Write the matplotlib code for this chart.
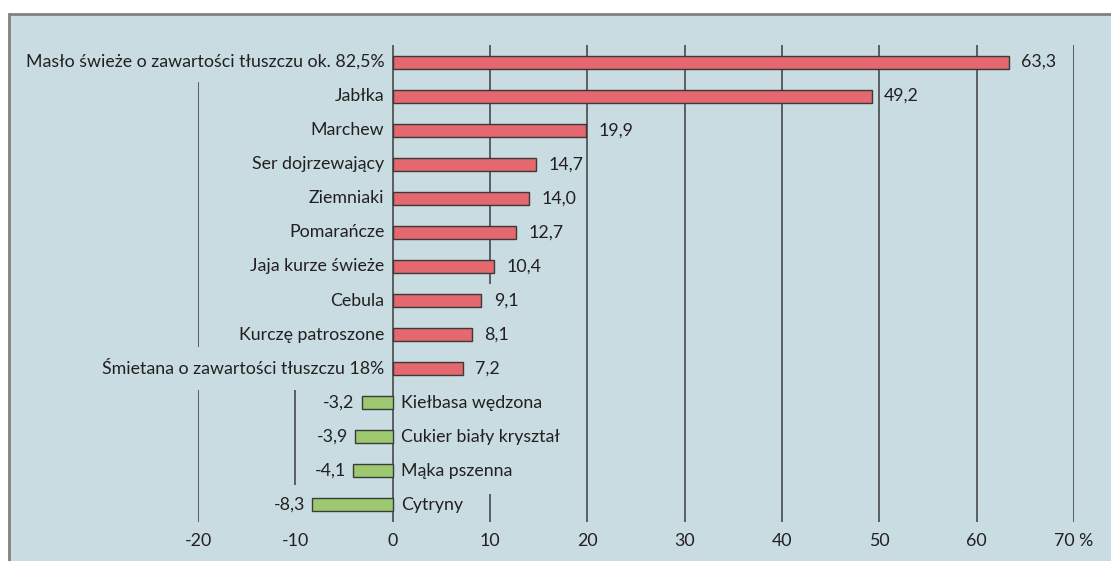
import matplotlib
matplotlib.use("Agg")
import matplotlib.pyplot as plt
from matplotlib.patches import Rectangle

# price change, % (positive = more expensive)
categories = [
    "Masło świeże o zawartości tłuszczu ok. 82,5%",
    "Jabłka",
    "Marchew",
    "Ser dojrzewający",
    "Ziemniaki",
    "Pomarańcze",
    "Jaja kurze świeże",
    "Cebula",
    "Kurczę patroszone",
    "Śmietana o zawartości tłuszczu 18%",
    "Kiełbasa wędzona",
    "Cukier biały kryształ",
    "Mąka pszenna",
    "Cytryny",
]
values = [63.3, 49.2, 19.9, 14.7, 14.0, 12.7, 10.4, 9.1, 8.1, 7.2, -3.2, -3.9, -4.1, -8.3]
ticks = [-20, -10, 0, 10, 20, 30, 40, 50, 60, 70]
tick_labels = ["-20", "-10", "0", "10", "20", "30", "40", "50", "60", "70 %"]

BG = "#c8dce2"
RED = "#e4686d"
GREEN = "#9dc86f"
TXT = "#231f20"
GRID = "#3c3c3c"
FS = 12.8

plt.rcParams["font.family"] = ["Lato", "DejaVu Sans"]
plt.rcParams["font.size"] = FS

fig = plt.figure(figsize=(11.11, 5.61), dpi=100)
fig.patch.set_facecolor("white")
fig.patches.append(Rectangle((9 / 1111, -0.1), 1.2, 1.1 - 14 / 561,
                             transform=fig.transFigure, facecolor=BG,
                             edgecolor="#808080", lw=2, zorder=-10))

ax = fig.add_axes([198 / 1111, 39 / 561, 876 / 1111, 477 / 561])
ax.set_zorder(5)
ax.set_facecolor("none")
ax.set_xlim(-20, 70)
ax.set_ylim(13.5, -0.5)

# gridline segments (broken where the chart hides them behind labels)
segments = {
    -20: [(0.59, 8.35), (9.62, 13.5)],
    -10: [(9.62, 12.41)],
    0: [(-0.5, 13.5)],
    10: [(-0.5, 6.5), (12.68, 13.5)],
    20: [(-0.5, 13.5)],
    30: [(-0.5, 13.5)],
    40: [(-0.5, 13.5)],
    50: [(-0.5, 13.5)],
    60: [(-0.5, 13.5)],
    70: [(-0.5, 13.5)],
}
for x, segs in segments.items():
    for y0, y1 in segs:
        ax.vlines(x, y0, y1, color=GRID, lw=1.1, zorder=1)

ypos = list(range(len(categories)))
colors = [RED if v > 0 else GREEN for v in values]
ax.barh(ypos, values, height=0.38, color=colors, edgecolor="#3a3a3a",
        lw=1.0, zorder=2)

for y, v, name in zip(ypos, values, categories):
    lab = f"{v:.1f}".replace(".", ",")
    if v > 0:
        ax.annotate(lab, (v, y), xytext=(9, 0), textcoords="offset points",
                    ha="left", va="center", color=TXT, fontsize=FS)
        ax.annotate(name, (0, y), xytext=(-6, 0), textcoords="offset points",
                    ha="right", va="center", color=TXT, fontsize=FS)
    else:
        ax.annotate(lab, (v, y), xytext=(-5, 0), textcoords="offset points",
                    ha="right", va="center", color=TXT, fontsize=FS)
        ax.annotate(name, (0, y), xytext=(6, 0), textcoords="offset points",
                    ha="left", va="center", color=TXT, fontsize=FS)

ax.set_xticks(ticks)
ax.set_xticklabels(tick_labels, color=TXT, fontsize=FS)
ax.tick_params(axis="x", length=0, pad=8)
ax.set_yticks([])
for s in ax.spines.values():
    s.set_visible(False)

fig.savefig("out.png", dpi=100)
